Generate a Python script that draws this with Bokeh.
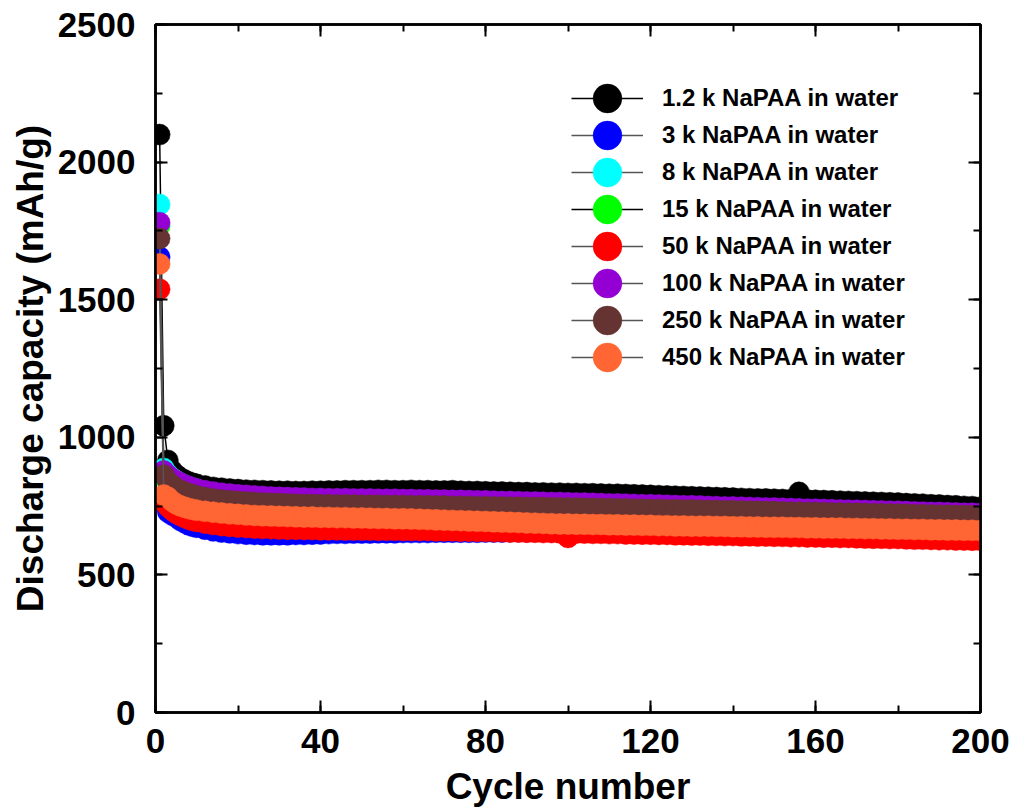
from bokeh.plotting import figure
from bokeh.models import (Range1d, LinearAxis, SingleIntervalTicker, Legend, LegendItem,
                          ColumnDataSource, CustomJSTickFormatter)
from bokeh.embed import file_html
from bokeh.resources import INLINE

# cycle numbers: every cycle up to 10, then every second cycle
cycles = list(range(1, 11)) + list(range(12, 201, 2))

labels = ["1.2 k NaPAA in water", "3 k NaPAA in water", "8 k NaPAA in water",
          "15 k NaPAA in water", "50 k NaPAA in water", "100 k NaPAA in water",
          "250 k NaPAA in water", "450 k NaPAA in water"]

k1_2 = [2100, 1042, 916, 880, 864, 853, 845, 838, 833, 829,
        823, 818, 815, 812, 810, 808, 807, 806, 805, 804,
        804, 803, 803, 804, 804, 805, 805, 806, 806, 806,
        806, 807, 807, 806, 806, 807, 806, 806, 805, 805,
        806, 804, 803, 803, 802, 801, 801, 800, 799, 799,
        798, 798, 797, 797, 796, 796, 795, 795, 794, 793,
        793, 792, 791, 790, 789, 788, 787, 786, 785, 784,
        783, 782, 781, 780, 779, 778, 777, 776, 776, 775,
        774, 773, 800, 772, 771, 770, 769, 768, 767, 766,
        765, 764, 763, 762, 761, 759, 758, 757, 755, 754,
        752, 751, 749, 748, 746]

k3 = [1655, 760, 728, 718, 710, 698, 690, 682, 677, 673,
      666, 660, 656, 653, 650, 648, 647, 646, 646, 646,
      646, 647, 647, 648, 649, 650, 651, 651, 652, 652,
      652, 653, 653, 653, 654, 654, 654, 654, 655, 655,
      655, 655, 655, 655, 656, 656, 656, 657, 657, 657,
      658, 658, 657, 657, 656, 656, 655, 655, 655, 654,
      654, 653, 653, 652, 652, 651, 651, 650, 650, 649,
      649, 648, 648, 647, 647, 646, 646, 645, 645, 644,
      644, 643, 643, 642, 642, 641, 641, 640, 640, 639,
      638, 637, 637, 636, 636, 635, 634, 634, 633, 632,
      632, 631, 631, 630, 630]

k8 = [1846, 887, 866, 852, 842, 833, 826, 820, 815, 811,
      803, 798, 794, 791, 788, 786, 784, 782, 780, 779,
      778, 777, 776, 775, 775, 774, 774, 774, 773, 773,
      773, 772, 772, 772, 771, 771, 770, 770, 769, 769,
      768, 768, 767, 766, 766, 765, 764, 764, 763, 762,
      762, 761, 760, 760, 759, 758, 758, 757, 756, 755,
      755, 754, 753, 752, 752, 751, 750, 749, 748, 748,
      747, 746, 745, 744, 744, 743, 742, 741, 740, 740,
      739, 738, 737, 736, 736, 735, 734, 733, 732, 732,
      731, 730, 729, 728, 728, 727, 726, 725, 724, 724,
      723, 722, 721, 721, 720]

k15 = [1768, 856, 836, 823, 813, 806, 800, 795, 790, 787,
       786, 781, 777, 774, 772, 770, 768, 766, 765, 764,
       763, 762, 761, 761, 760, 760, 759, 759, 759, 758,
       758, 758, 757, 757, 757, 756, 756, 756, 755, 755,
       754, 754, 754, 753, 753, 752, 752, 751, 751, 750,
       750, 750, 749, 749, 748, 748, 747, 747, 746, 746,
       745, 745, 744, 744, 743, 743, 742, 742, 741, 741,
       740, 739, 739, 738, 738, 737, 736, 736, 735, 735,
       734, 733, 733, 732, 732, 731, 730, 730, 729, 729,
       728, 727, 727, 726, 726, 725, 724, 724, 723, 722,
       722, 721, 721, 720, 720]

k50 = [1538, 765, 748, 735, 724, 716, 709, 703, 698, 694,
       688, 683, 679, 676, 674, 672, 670, 669, 668, 667,
       666, 666, 665, 665, 664, 664, 664, 663, 663, 663,
       663, 662, 662, 662, 661, 661, 661, 661, 660, 660,
       660, 659, 659, 658, 658, 657, 657, 656, 656, 655,
       655, 654, 654, 653, 636, 652, 652, 651, 651, 650,
       650, 649, 649, 648, 648, 647, 647, 646, 646, 645,
       645, 644, 644, 643, 643, 642, 642, 641, 641, 640,
       640, 639, 639, 638, 638, 637, 637, 636, 636, 635,
       634, 633, 633, 632, 632, 631, 630, 630, 629, 628,
       628, 627, 627, 626, 626]

k100 = [1780, 878, 862, 850, 842, 834, 827, 821, 816, 812,
        806, 801, 797, 794, 791, 789, 787, 785, 783, 782,
        781, 780, 779, 778, 778, 777, 777, 777, 776, 776,
        776, 775, 775, 775, 774, 774, 773, 773, 772, 772,
        771, 771, 770, 769, 769, 768, 767, 767, 766, 765,
        765, 764, 763, 763, 762, 761, 761, 760, 759, 758,
        758, 757, 756, 755, 755, 754, 753, 752, 751, 751,
        750, 749, 748, 747, 747, 746, 745, 744, 743, 743,
        742, 741, 740, 739, 739, 738, 737, 736, 735, 735,
        734, 733, 732, 731, 731, 730, 729, 728, 727, 727,
        726, 725, 724, 724, 723]

k250 = [1722, 862, 840, 826, 815, 807, 801, 796, 791, 787,
        781, 776, 772, 769, 767, 765, 763, 761, 760, 759,
        758, 757, 756, 756, 755, 755, 754, 754, 754, 753,
        753, 753, 752, 752, 752, 751, 751, 751, 750, 750,
        749, 749, 749, 748, 748, 747, 747, 746, 746, 745,
        745, 745, 744, 744, 743, 743, 742, 742, 741, 741,
        740, 740, 739, 739, 738, 738, 737, 737, 736, 736,
        735, 734, 734, 733, 733, 732, 731, 731, 730, 730,
        729, 728, 728, 727, 727, 726, 725, 725, 724, 724,
        723, 722, 722, 721, 721, 720, 719, 719, 718, 717,
        717, 716, 716, 715, 714]

k450 = [1630, 790, 782, 768, 758, 751, 746, 741, 738, 735,
        731, 728, 725, 722, 720, 718, 716, 715, 714, 713,
        712, 711, 710, 710, 709, 709, 708, 708, 707, 707,
        706, 705, 705, 704, 704, 703, 702, 701, 700, 699,
        698, 697, 696, 695, 694, 693, 692, 691, 690, 689,
        688, 687, 686, 685, 685, 684, 684, 683, 683, 682,
        682, 681, 681, 680, 680, 679, 679, 678, 678, 677,
        677, 677, 676, 676, 675, 675, 674, 674, 673, 673,
        673, 672, 672, 671, 671, 670, 670, 670, 669, 669,
        668, 668, 667, 667, 666, 666, 665, 665, 664, 664,
        663, 663, 662, 662, 661]

series = [k1_2, k3, k8, k15, k50, k100, k250, k450]
fill_colors = ["#000000", "#0000FF", "#00FFFF", "#00FF00", "#FF0000", "#9400D3", "#663333", "#FF6633"]
line_colors = ["#000000", "#555555", "#555555", "#000000", "#555555", "#555555", "#555555", "#555555"]

FONT = "Liberation Sans"

p = figure(width=1014, height=811, x_range=Range1d(0, 200), y_range=Range1d(0, 2500),
           output_backend="svg", toolbar_location=None,
           min_border_left=155, min_border_right=34, min_border_top=24, min_border_bottom=99,
           x_axis_label="Cycle number", y_axis_label="Discharge capacity (mAh/g)")
p.xgrid.visible = False
p.ygrid.visible = False
p.outline_line_color = "black"
p.outline_line_width = 2.5

p.xaxis.ticker = SingleIntervalTicker(interval=40, num_minor_ticks=2)
p.yaxis.ticker = SingleIntervalTicker(interval=500, num_minor_ticks=2)

def style(ax, show_labels=True):
    ax.axis_line_width = 2.5
    ax.axis_line_color = "black"
    ax.major_tick_in = 12
    ax.major_tick_out = 0
    ax.minor_tick_in = 7
    ax.minor_tick_out = 0
    ax.major_tick_line_width = 2
    ax.minor_tick_line_width = 2
    ax.major_tick_line_color = "black"
    ax.minor_tick_line_color = "black"
    ax.major_label_text_font = FONT
    ax.major_label_text_font_style = "bold"
    ax.major_label_text_color = "black"
    ax.axis_label_text_font = FONT
    ax.axis_label_text_font_style = "bold"
    ax.axis_label_text_color = "black"
    ax.major_label_text_font_size = "35px"
    ax.axis_label_text_font_size = "37px"
    if not show_labels:
        ax.formatter = CustomJSTickFormatter(code="return ''")
        ax.major_label_standoff = 0

style(p.xaxis[0])
style(p.yaxis[0])
p.xaxis.major_label_standoff = 16
p.xaxis.axis_label_standoff = 10
p.yaxis.major_label_standoff = 20
p.yaxis.axis_label_standoff = 4

top = LinearAxis(ticker=SingleIntervalTicker(interval=40, num_minor_ticks=2))
style(top, False)
p.add_layout(top, "above")
right = LinearAxis(ticker=SingleIntervalTicker(interval=500, num_minor_ticks=2))
style(right, False)
p.add_layout(right, "right")

renderers = []
for lab, vals, fc, lc in zip(labels, series, fill_colors, line_colors):
    src = ColumnDataSource(dict(x=cycles, y=vals))
    r1 = p.line("x", "y", source=src, line_color=lc, line_width=1.5)
    r2 = p.scatter("x", "y", source=src, size=21, fill_color=fc, line_color=fc, line_width=0.5)
    renderers.append((lab, r1, r2))

# one small legend per entry so that rows can sit closer than the glyph box height
LEG_X = 416
LEG_Y0 = 578
ROW = 37
for i, (lab, r1, r2) in enumerate(renderers):
    lg = Legend(items=[LegendItem(label=lab, renderers=[r1, r2])],
                location=(LEG_X, LEG_Y0 - i * ROW), glyph_width=72, glyph_height=72,
                label_text_font=FONT, label_text_font_style="bold", label_text_font_size="24px",
                label_text_color="black",
                label_standoff=19, padding=0, margin=0,
                background_fill_alpha=0, border_line_alpha=0)
    p.add_layout(lg)

open("out.html", "w").write(file_html(p, INLINE))
